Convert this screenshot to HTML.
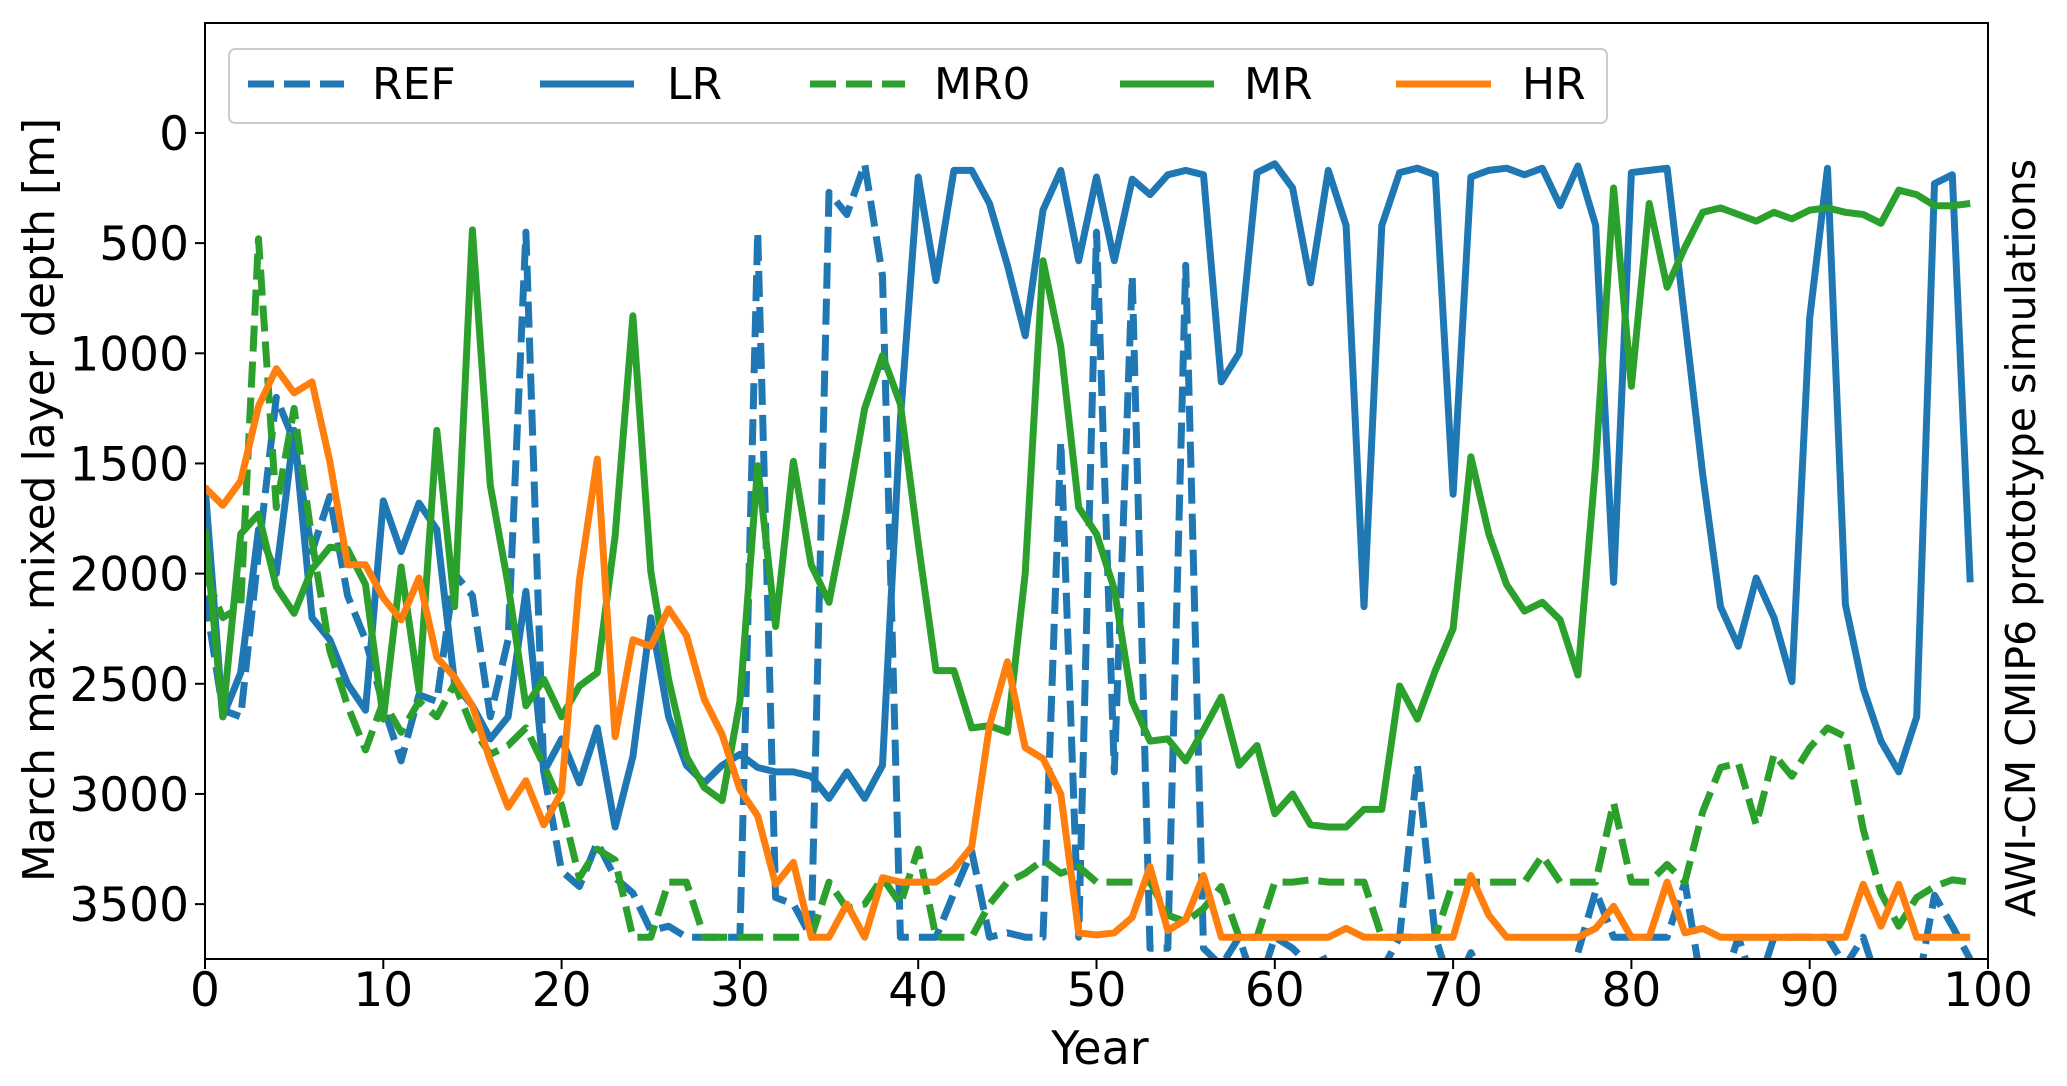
<!DOCTYPE html>
<html><head><meta charset="utf-8">
<style>
html,body{margin:0;padding:0;background:#fff;}
svg{display:block;font-family:"DejaVu Sans","Liberation Sans",sans-serif;}
</style></head>
<body>
<svg id="chart" width="2067" height="1086" viewBox="0 0 2067 1086" xmlns="http://www.w3.org/2000/svg">
<defs><clipPath id="plotclip"><rect x="205" y="23" width="1783" height="936"/></clipPath></defs>
<g id="series" clip-path="url(#plotclip)"></g>
<rect x="205" y="23" width="1783" height="936" fill="none" stroke="#000" stroke-width="2"/>
<g id="xticks"></g>
<g id="yticks"></g>
<text x="1100" y="1064" font-size="46" text-anchor="middle">Year</text>
<text transform="translate(54,500) rotate(-90)" font-size="44" text-anchor="middle">March max. mixed layer depth [m]</text>
<text transform="translate(2035,538) rotate(-90)" font-size="41" text-anchor="middle">AWI-CM CMIP6 prototype simulations</text>
<g>
<rect x="229" y="49" width="1378" height="74" rx="6" fill="#fff" fill-opacity="0.8" stroke="#ccc" stroke-width="2"/>
<g><line x1="248" y1="84" x2="344" y2="84" stroke="#1f77b4" stroke-width="7" stroke-dasharray="26,10"/><text x="372" y="99" font-size="44">REF</text></g>
<g><line x1="540" y1="84" x2="634" y2="84" stroke="#1f77b4" stroke-width="7"/><text x="667" y="99" font-size="44">LR</text></g>
<g><line x1="810" y1="84" x2="905" y2="84" stroke="#2ca02c" stroke-width="7" stroke-dasharray="26,10"/><text x="934" y="99" font-size="44">MR0</text></g>
<g><line x1="1120" y1="84" x2="1214" y2="84" stroke="#2ca02c" stroke-width="7"/><text x="1244" y="99" font-size="44">MR</text></g>
<g><line x1="1396" y1="84" x2="1491" y2="84" stroke="#ff7f0e" stroke-width="7"/><text x="1522" y="99" font-size="44">HR</text></g>
</g>
</svg>
<script>
const years = Array.from({length:100},(_,i)=>i);
const xTicks = [0,10,20,30,40,50,60,70,80,90,100];
const yTicks = [0,500,1000,1500,2000,2500,3000,3500];
const refValues = [2100,2620,2650,1900,1200,1400,1900,1650,2100,2300,2600,2850,2550,2580,2000,2100,2650,2300,450,2900,3350,3420,3220,3380,3450,3620,3600,3650,3650,3650,3650,450,3470,3500,3650,270,370,140,650,3650,3650,3650,3450,3260,3650,3630,3650,3650,1400,3650,450,2900,650,3700,3700,600,3700,3780,3650,3900,3650,3700,3780,3740,3900,3900,3800,3650,2870,3650,3900,3720,3900,3900,3900,3900,3900,3720,3440,3650,3650,3650,3650,3400,3900,3900,3650,3900,3650,3650,3650,3650,3780,3650,3900,3900,3900,3460,3600,3750];
const lrValues = [1600,2650,2450,1800,2000,1350,2200,2300,2500,2620,1670,1900,1680,1800,2500,2600,2750,2650,2080,2900,2750,2950,2700,3150,2830,2200,2650,2870,2950,2870,2820,2880,2900,2900,2920,3020,2900,3020,2870,1300,200,670,170,170,320,600,920,350,170,580,200,580,210,280,190,170,190,1130,1000,180,140,250,680,170,420,2150,420,180,160,190,1640,200,170,160,190,160,330,150,420,2040,180,170,160,850,1550,2150,2330,2020,2200,2490,840,160,2140,2520,2760,2900,2650,230,190,2040];
const mr0Values = [2000,2200,2150,480,1700,1250,1850,2350,2600,2800,2580,2720,2580,2650,2500,2700,2820,2780,2700,2870,3050,3380,3250,3300,3650,3650,3400,3400,3650,3650,3650,3650,3650,3650,3650,3400,3520,3500,3380,3500,3250,3650,3650,3650,3500,3400,3360,3300,3360,3330,3400,3400,3400,3400,3550,3580,3520,3420,3650,3650,3400,3400,3390,3400,3400,3400,3650,3650,3650,3650,3400,3400,3400,3400,3400,3280,3400,3400,3400,3040,3400,3400,3320,3400,3080,2880,2860,3140,2820,2920,2790,2700,2740,3160,3450,3600,3470,3420,3390,3400];
const mrValues = [1800,2650,1820,1730,2060,2180,1980,1880,1890,2050,2660,1970,2530,1350,2150,440,1600,2050,2600,2480,2650,2510,2450,1830,830,1990,2480,2830,2970,3030,2580,1510,2240,1490,1960,2130,1710,1250,1010,1230,1860,2440,2440,2700,2690,2720,2000,580,970,1700,1820,2070,2580,2760,2750,2850,2710,2560,2870,2780,3090,3000,3140,3150,3150,3070,3070,2510,2660,2440,2250,1470,1820,2050,2170,2130,2210,2460,1500,250,1150,320,700,520,360,340,370,400,360,390,350,340,360,370,410,260,280,330,330,320];
const hrValues = [1610,1690,1580,1240,1070,1180,1130,1490,1960,1960,2110,2210,2020,2380,2470,2600,2850,3060,2940,3140,2990,2030,1480,2740,2300,2330,2160,2280,2570,2730,2980,3100,3410,3310,3650,3650,3500,3650,3380,3400,3400,3400,3340,3240,2690,2400,2790,2840,3000,3630,3640,3630,3560,3330,3620,3570,3370,3650,3650,3650,3650,3650,3650,3650,3610,3650,3650,3650,3650,3650,3650,3370,3550,3650,3650,3650,3650,3650,3610,3510,3650,3650,3400,3630,3610,3650,3650,3650,3650,3650,3650,3650,3650,3410,3600,3410,3650,3650,3650,3650];

const NS='http://www.w3.org/2000/svg';
const X0=205,X1=1988,YTOP=23,YBOT=959;
const yMin=-499,yMax=3749;
function xs(v){return X0+(v-0)/(100-0)*(X1-X0);}
function ys(v){return YTOP+(v-yMin)/(yMax-yMin)*(YBOT-YTOP);}

const sg=document.getElementById('series');
function drawSeries(vals,color,dashed,name){
  const p=document.createElementNS(NS,'path');
  p.setAttribute('d',vals.map((v,i)=>(i?'L':'M')+xs(years[i]).toFixed(1)+','+ys(v).toFixed(1)).join(''));
  p.setAttribute('fill','none');p.setAttribute('stroke',color);p.setAttribute('stroke-width','7');
  p.setAttribute('stroke-linejoin','round');
  if(dashed)p.setAttribute('stroke-dasharray','26,10');
  
  
  sg.appendChild(p);
}
drawSeries(refValues,'#1f77b4',true,'ref-line');
drawSeries(lrValues,'#1f77b4',false,'lr-line');
drawSeries(mr0Values,'#2ca02c',true,'mr0-line');
drawSeries(mrValues,'#2ca02c',false,'mr-line');
drawSeries(hrValues,'#ff7f0e',false,'hr-line');

const xg=document.getElementById('xticks');
xTicks.forEach(t=>{
  const l=document.createElementNS(NS,'line');
  l.setAttribute('x1',xs(t));l.setAttribute('x2',xs(t));l.setAttribute('y1',YBOT);l.setAttribute('y2',YBOT+10);
  l.setAttribute('stroke','#000');l.setAttribute('stroke-width','2');
  
  
  xg.appendChild(l);
  const tx=document.createElementNS(NS,'text');
  tx.setAttribute('x',xs(t));tx.setAttribute('y',1006);tx.setAttribute('font-size','47');tx.setAttribute('text-anchor','middle');
  tx.textContent=t;
  
  
  xg.appendChild(tx);
});
const yg=document.getElementById('yticks');
yTicks.forEach(t=>{
  const l=document.createElementNS(NS,'line');
  l.setAttribute('x1',X0-10);l.setAttribute('x2',X0);l.setAttribute('y1',ys(t));l.setAttribute('y2',ys(t));
  l.setAttribute('stroke','#000');l.setAttribute('stroke-width','2');
  
  
  yg.appendChild(l);
  const tx=document.createElementNS(NS,'text');
  tx.setAttribute('x',X0-16);tx.setAttribute('y',ys(t)+17);tx.setAttribute('font-size','47');tx.setAttribute('text-anchor','end');
  tx.textContent=t;
  
  
  yg.appendChild(tx);
});
</script>
</body></html>
